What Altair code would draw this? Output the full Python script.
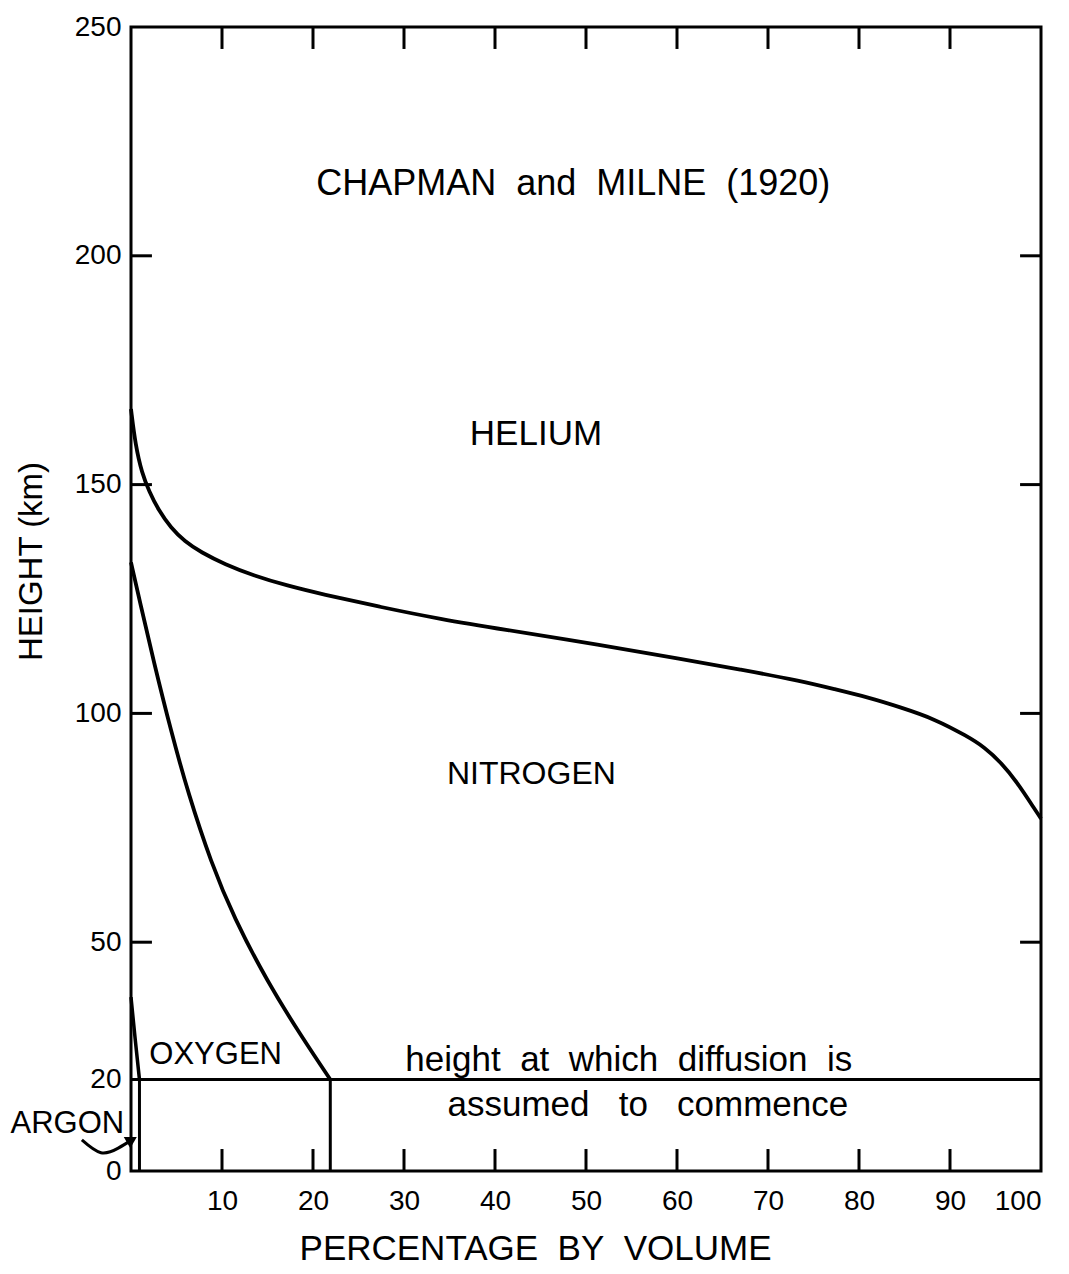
import altair as alt
import pandas as pd

FONT = "Liberation Sans"
NB2 = "\u00a0\u00a0"
NB3 = "\u00a0\u00a0\u00a0"

# Boundary curves (cumulative percentage by volume vs height in km)
helium_x = [0, 0.5, 1.2, 2.0, 3.0, 4.4, 5.9, 7.7, 10.3, 13.5, 17.2, 20.9, 27.5, 34, 40.7, 51.6, 60.4,
            67, 73.6, 77.3, 81.0, 84.6, 88.3, 91.9, 93.8, 95.6, 97.4, 99.3, 100]
helium_y = [166.5, 158.5, 152.5, 148.5, 144.5, 140.5, 137.6, 135.2, 132.6, 130.1, 127.9, 126.1, 123.2,
            120.6, 118.4, 115, 111.9, 109.6, 107.1, 105.3, 103.5, 101.3, 98.8, 95.0, 92.6, 89.3, 84.9, 79.1, 77]

oxygen_x = [0, 1.0, 2.5, 4.4, 6.3, 8.8, 11.3, 15, 18.7, 21.9]
oxygen_y = [133, 124.2, 111.3, 96.1, 82.4, 67.4, 55.4, 41.3, 29.5, 20]

argon_x = [0, 0.45, 0.93]
argon_y = [38, 29, 20]

# Constant composition below the diffusion level
diffusion_level = 20
argon_pct = 0.93
oxygen_pct = 21.9

# Axis ticks and labels
x_labels = [10, 20, 30, 40, 50, 60, 70, 80, 90, 100]
x_ticks = [10, 20, 30, 40, 50, 60, 70, 80, 90]
y_labels = [0, 20, 50, 100, 150, 200, 250]
y_ticks = [50, 100, 150, 200]
tick_len_x = 2.3   # in % units
tick_len_y = 4.8   # in km units

# Annotations
label_text = ["CHAPMAN" + NB2 + "and" + NB2 + "MILNE" + NB2 + "(1920)", "HELIUM", "NITROGEN", "OXYGEN",
              "height" + NB2 + "at" + NB2 + "which" + NB2 + "diffusion" + NB2 + "is",
              "assumed" + NB3 + "to" + NB3 + "commence", "ARGON"]
label_x = [48.6, 44.5, 44.0, 9.3, 54.7, 56.8, -7.0]
label_y = [215.7, 161.0, 86.8, 25.3, 24.2, 14.4, 10.3]
label_size = [36, 35, 32, 31, 35, 35, 31]

arrow_x = [-5.4, -3.3, -1.4, 0.1]
arrow_y = [6.8, 4.0, 5.0, 6.8]

W, H = 910, 1144
xs = alt.Scale(domain=[0, 100], nice=False, zero=False)
ys = alt.Scale(domain=[0, 250], nice=False, zero=False)

def curve(xv, yv, name):
    return pd.DataFrame({"x": xv, "y": yv, "curve": name, "order": range(len(xv))})

curves = pd.concat([curve(helium_x, helium_y, "helium"),
                    curve(oxygen_x, oxygen_y, "oxygen")])
argon_df = curve(argon_x, argon_y, "argon")

base_x = alt.X("x:Q", scale=xs, axis=alt.Axis(
    values=x_labels, ticks=False, domain=False, grid=False, labelFontSize=28,
    labelFont=FONT, labelColor="black", labelPadding=16,
    title="PERCENTAGE" + NB2 + "BY" + NB2 + "VOLUME",
    titleFont=FONT, titleFontSize=35, titleFontWeight="normal", titleColor="black", titlePadding=16,
    titleX=404, titleAlign="center"))
base_y = alt.Y("y:Q", scale=ys, axis=alt.Axis(
    values=y_labels, ticks=False, domain=False, grid=False, labelFontSize=28,
    labelFont=FONT, labelColor="black", labelPadding=10, title="HEIGHT (km)",
    titleFont=FONT, titleFontSize=33, titleFontWeight="normal", titleColor="black", titlePadding=26,
    titleY=534, titleAlign="center"))

lines = alt.Chart(curves).mark_line(color="black", strokeWidth=3.8, interpolate="basis").encode(
    x=base_x, y=base_y, detail="curve:N", order="order:Q")
argon_line = alt.Chart(argon_df).mark_line(color="black", strokeWidth=3.5).encode(
    x=alt.X("x:Q", scale=xs), y=alt.Y("y:Q", scale=ys), order="order:Q")

# Horizontal diffusion line and vertical dividers below it
seg = pd.DataFrame({
    "x": [0, argon_pct, oxygen_pct],
    "x2": [100, argon_pct, oxygen_pct],
    "y": [diffusion_level, 0, 0],
    "y2": [diffusion_level, diffusion_level, diffusion_level],
})
segs = alt.Chart(seg).mark_rule(color="black", strokeWidth=3).encode(
    x=alt.X("x:Q", scale=xs), x2="x2:Q", y=alt.Y("y:Q", scale=ys), y2="y2:Q")

# Inward ticks on all four sides
tk = pd.concat([
    pd.DataFrame({"x": x_ticks, "x2": x_ticks, "y": [250] * 9, "y2": [250 - tick_len_y] * 9}),
    pd.DataFrame({"x": x_ticks, "x2": x_ticks, "y": [0] * 9, "y2": [tick_len_y] * 9}),
    pd.DataFrame({"x": [0] * 4, "x2": [tick_len_x] * 4, "y": y_ticks, "y2": y_ticks}),
    pd.DataFrame({"x": [100] * 4, "x2": [100 - tick_len_x] * 4, "y": y_ticks, "y2": y_ticks}),
])
ticks = alt.Chart(tk).mark_rule(color="black", strokeWidth=3).encode(
    x=alt.X("x:Q", scale=xs), x2="x2:Q", y=alt.Y("y:Q", scale=ys), y2="y2:Q")

labels_df = pd.DataFrame({"t": label_text, "x": label_x, "y": label_y, "s": label_size})
texts = alt.Chart(labels_df).mark_text(font=FONT, color="black", align="center", baseline="middle").encode(
    x=alt.X("x:Q", scale=xs), y=alt.Y("y:Q", scale=ys), text="t:N",
    size=alt.Size("s:Q", scale=None, legend=None))

arrow_df = pd.DataFrame({"x": arrow_x, "y": arrow_y, "order": range(len(arrow_x))})
arrow = alt.Chart(arrow_df).mark_line(color="black", strokeWidth=3, interpolate="natural").encode(
    x=alt.X("x:Q", scale=xs), y=alt.Y("y:Q", scale=ys), order="order:Q")
head = alt.Chart(arrow_df.tail(1)).mark_point(shape="triangle-right", filled=True, color="black",
                                               size=170, angle=330, opacity=1).encode(
    x=alt.X("x:Q", scale=xs), y=alt.Y("y:Q", scale=ys))

chart = alt.layer(lines, argon_line, segs, ticks, texts, arrow, head).properties(
    width=W, height=H, background="white",
    padding={"left": 2, "top": 5, "right": 5, "bottom": 5}
).configure_view(stroke="black", strokeWidth=3)

chart.save("out.html", embed_options={"renderer": "svg", "actions": False})
